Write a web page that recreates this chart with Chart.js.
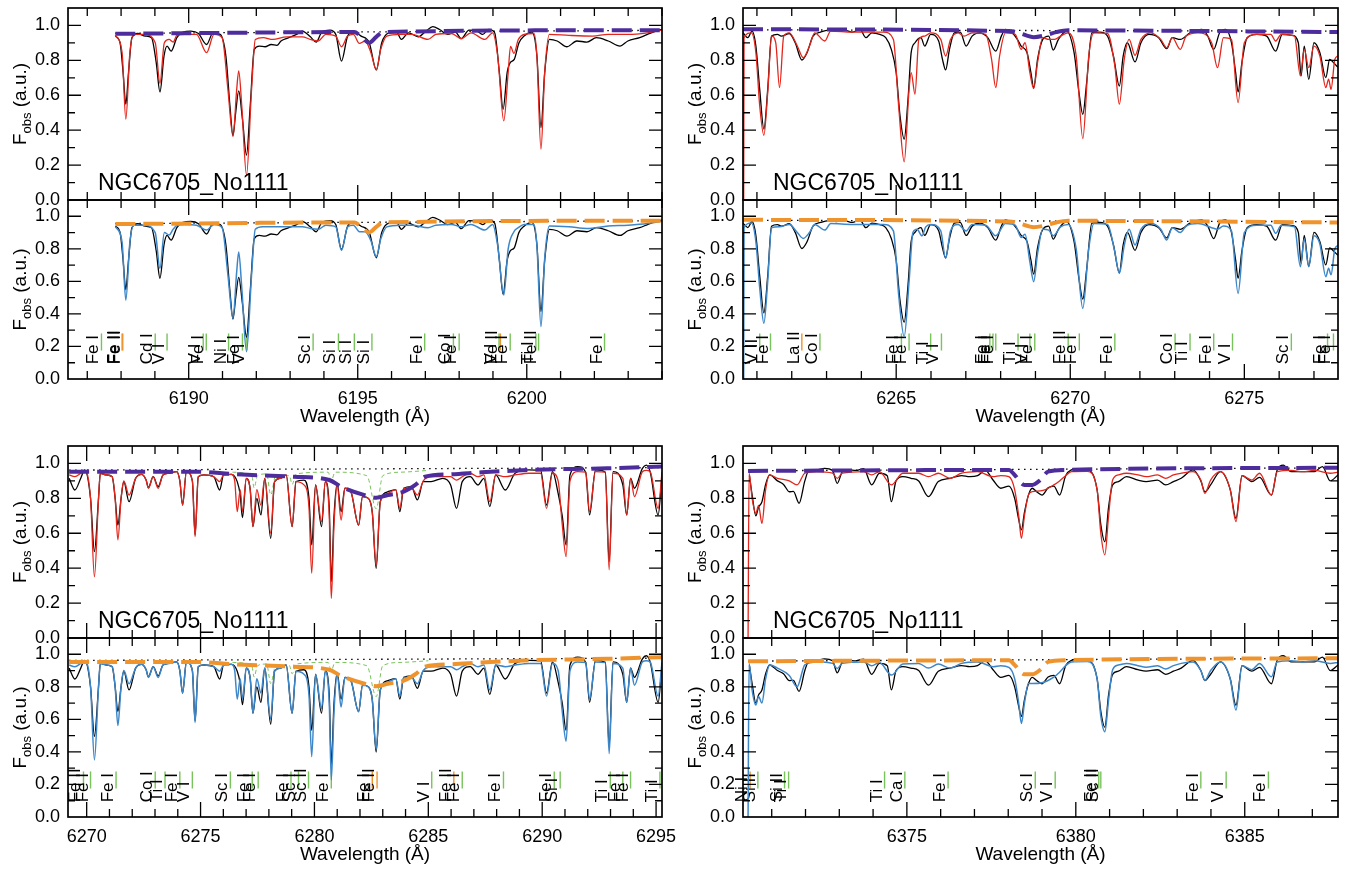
<!DOCTYPE html>
<html>
<head>
<meta charset="utf-8">
<script src="https://cdn.jsdelivr.net/npm/chart.js@4.4.0/dist/chart.umd.min.js"></script>
<style>
  html, body { margin: 0; padding: 0; background: #fff; }
  body { width: 1352px; height: 869px; position: relative; overflow: hidden; }
  canvas { position: absolute; }
</style>
</head>
<body>
<script>
// spectra: [wavelength (A), flux]
const tlObs = [[6187.83,0.939],[6187.97,0.901],[6188.06,0.730],[6188.14,0.549],[6188.22,0.730],[6188.32,0.930],[6188.49,0.954],[6188.72,0.939],[6188.90,0.930],[6189.04,0.787],[6189.15,0.619],[6189.27,0.825],[6189.36,0.882],[6189.48,0.853],[6189.65,0.930],[6189.83,0.962],[6190.06,0.968],[6190.29,0.954],[6190.53,0.891],[6190.72,0.958],[6190.93,0.949],[6191.10,0.825],[6191.22,0.539],[6191.31,0.368],[6191.39,0.501],[6191.48,0.625],[6191.59,0.463],[6191.71,0.257],[6191.82,0.539],[6191.94,0.863],[6192.09,0.882],[6192.26,0.878],[6192.44,0.891],[6192.61,0.886],[6192.73,0.911],[6192.96,0.930],[6193.19,0.949],[6193.36,0.968],[6193.60,0.935],[6193.77,0.905],[6193.94,0.962],[6194.18,0.973],[6194.35,0.949],[6194.52,0.796],[6194.70,0.939],[6194.87,0.962],[6195.10,0.939],[6195.34,0.901],[6195.55,0.745],[6195.71,0.901],[6195.92,0.958],[6196.15,0.962],[6196.29,0.920],[6196.50,0.958],[6196.79,0.935],[6197.02,0.968],[6197.22,0.993],[6197.42,0.977],[6197.66,0.949],[6197.89,0.962],[6198.06,0.924],[6198.29,0.973],[6198.53,0.968],[6198.70,0.949],[6198.87,0.977],[6199.05,0.958],[6199.19,0.730],[6199.30,0.520],[6199.42,0.730],[6199.51,0.787],[6199.63,0.806],[6199.77,0.901],[6199.92,0.939],[6200.15,0.962],[6200.30,0.825],[6200.42,0.415],[6200.53,0.730],[6200.67,0.920],[6200.90,0.911],[6201.19,0.878],[6201.48,0.911],[6201.78,0.905],[6202.06,0.930],[6202.41,0.911],[6202.76,0.882],[6202.99,0.911],[6203.34,0.930],[6203.57,0.949],[6203.81,0.968],[6204.0,0.977]];
const tlRed = [[6187.83,0.943],[6188.03,0.844],[6188.14,0.463],[6188.26,0.844],[6188.38,0.949],[6188.67,0.949],[6189.01,0.901],[6189.15,0.669],[6189.28,0.901],[6189.42,0.920],[6189.54,0.905],[6189.65,0.943],[6189.88,0.949],[6190.23,0.949],[6190.53,0.844],[6190.75,0.949],[6190.99,0.930],[6191.16,0.634],[6191.31,0.364],[6191.42,0.634],[6191.48,0.739],[6191.57,0.539],[6191.71,0.143],[6191.86,0.634],[6191.97,0.920],[6192.20,0.930],[6192.49,0.920],[6192.90,0.935],[6193.36,0.935],[6193.60,0.920],[6193.83,0.911],[6194.06,0.949],[6194.35,0.939],[6194.52,0.878],[6194.70,0.939],[6194.87,0.949],[6195.05,0.897],[6195.22,0.911],[6195.39,0.844],[6195.55,0.745],[6195.68,0.863],[6195.86,0.939],[6196.26,0.949],[6196.61,0.949],[6197.08,0.920],[6197.31,0.949],[6197.77,0.954],[6198.06,0.924],[6198.35,0.958],[6198.76,0.920],[6198.99,0.958],[6199.14,0.825],[6199.32,0.453],[6199.45,0.730],[6199.52,0.880],[6199.62,0.840],[6199.75,0.920],[6199.92,0.949],[6200.21,0.954],[6200.30,0.825],[6200.42,0.291],[6200.53,0.730],[6200.67,0.949],[6201.25,0.943],[6201.95,0.939],[6202.41,0.949],[6202.99,0.949],[6203.57,0.958],[6204.0,0.973]];
const tlBlue = [[6187.83,0.936],[6188.03,0.840],[6188.14,0.485],[6188.26,0.840],[6188.38,0.945],[6188.67,0.945],[6189.01,0.900],[6189.15,0.680],[6189.28,0.900],[6189.42,0.885],[6189.54,0.920],[6189.65,0.943],[6189.88,0.949],[6190.23,0.945],[6190.53,0.915],[6190.75,0.949],[6190.99,0.930],[6191.16,0.640],[6191.31,0.373],[6191.42,0.660],[6191.48,0.780],[6191.57,0.560],[6191.71,0.168],[6191.86,0.640],[6191.97,0.920],[6192.20,0.935],[6192.90,0.936],[6193.36,0.936],[6193.60,0.925],[6193.83,0.920],[6194.06,0.945],[6194.35,0.935],[6194.52,0.790],[6194.70,0.935],[6194.87,0.945],[6195.05,0.905],[6195.22,0.905],[6195.39,0.850],[6195.55,0.752],[6195.68,0.860],[6195.86,0.935],[6196.26,0.945],[6196.61,0.945],[6197.08,0.930],[6197.31,0.945],[6197.77,0.950],[6198.06,0.935],[6198.35,0.950],[6198.76,0.915],[6198.99,0.950],[6199.14,0.820],[6199.32,0.516],[6199.45,0.800],[6199.62,0.905],[6199.75,0.930],[6199.92,0.950],[6200.21,0.950],[6200.30,0.820],[6200.42,0.322],[6200.53,0.740],[6200.67,0.940],[6201.25,0.935],[6201.78,0.925],[6202.41,0.940],[6202.99,0.945],[6203.57,0.955],[6204.0,0.970]];
const tlCont = [[6187.83,0.952],[6194.90,0.962],[6195.05,0.945],[6195.34,0.901],[6195.55,0.935],[6195.75,0.962],[6204.0,0.973]];
const tlDot = [[6187.83,0.955],[6204.0,0.972]];

const trObs = [[6260.60,0.958],[6260.74,0.930],[6260.86,0.968],[6260.97,0.882],[6261.08,0.634],[6261.20,0.406],[6261.31,0.634],[6261.42,0.939],[6261.59,0.949],[6261.70,0.939],[6261.93,0.954],[6262.10,0.901],[6262.29,0.802],[6262.44,0.844],[6262.61,0.939],[6262.83,0.962],[6263.06,0.973],[6263.28,0.968],[6263.51,0.973],[6263.74,0.962],[6263.96,0.977],[6264.13,0.930],[6264.30,0.958],[6264.53,0.949],[6264.70,0.930],[6264.86,0.863],[6265.00,0.730],[6265.11,0.482],[6265.23,0.349],[6265.34,0.577],[6265.43,0.844],[6265.54,0.901],[6265.71,0.930],[6265.82,0.882],[6265.99,0.949],[6266.22,0.911],[6266.33,0.806],[6266.42,0.745],[6266.53,0.863],[6266.67,0.958],[6266.84,0.962],[6267.01,0.882],[6267.18,0.939],[6267.40,0.958],[6267.63,0.930],[6267.86,0.853],[6268.02,0.939],[6268.14,0.977],[6268.31,0.962],[6268.48,0.920],[6268.59,0.882],[6268.76,0.844],[6268.87,0.730],[6268.95,0.644],[6269.06,0.806],[6269.21,0.920],[6269.38,0.939],[6269.51,0.859],[6269.66,0.920],[6269.89,0.968],[6270.11,0.844],[6270.25,0.615],[6270.36,0.491],[6270.47,0.672],[6270.62,0.958],[6270.85,0.962],[6271.07,0.939],[6271.24,0.825],[6271.41,0.653],[6271.52,0.825],[6271.64,0.901],[6271.86,0.791],[6272.03,0.901],[6272.26,0.949],[6272.54,0.930],[6272.77,0.867],[6272.93,0.930],[6273.16,0.920],[6273.44,0.958],[6273.78,0.977],[6273.95,0.939],[6274.12,0.863],[6274.29,0.958],[6274.46,0.977],[6274.63,0.901],[6274.75,0.730],[6274.82,0.619],[6274.93,0.787],[6275.08,0.930],[6275.36,0.949],[6275.64,0.939],[6275.90,0.853],[6276.09,0.949],[6276.38,0.943],[6276.55,0.901],[6276.63,0.711],[6276.72,0.882],[6276.85,0.692],[6277.00,0.901],[6277.17,0.844],[6277.34,0.701],[6277.45,0.806],[6277.56,0.787],[6277.69,0.760]];
const trRed = [[6260.62,0.0],[6260.63,0.930],[6260.84,0.958],[6260.97,0.844],[6261.08,0.539],[6261.20,0.371],[6261.31,0.615],[6261.42,0.939],[6261.54,0.901],[6261.65,0.644],[6261.77,0.939],[6261.93,0.958],[6262.16,0.882],[6262.33,0.815],[6262.51,0.882],[6262.66,0.958],[6262.95,0.911],[6263.12,0.968],[6263.74,0.962],[6264.64,0.962],[6264.92,0.920],[6265.07,0.539],[6265.23,0.219],[6265.37,0.634],[6265.43,0.730],[6265.54,0.606],[6265.65,0.920],[6265.82,0.939],[6265.99,0.958],[6266.28,0.920],[6266.42,0.825],[6266.56,0.920],[6266.78,0.958],[6266.95,0.939],[6267.18,0.958],[6267.57,0.949],[6267.74,0.806],[6267.86,0.644],[6267.97,0.825],[6268.14,0.958],[6268.42,0.949],[6268.59,0.863],[6268.70,0.901],[6268.84,0.730],[6268.95,0.638],[6269.06,0.787],[6269.21,0.930],[6269.38,0.920],[6269.55,0.920],[6269.72,0.939],[6269.94,0.958],[6270.17,0.825],[6270.36,0.352],[6270.53,0.825],[6270.68,0.958],[6271.07,0.954],[6271.28,0.768],[6271.41,0.549],[6271.55,0.806],[6271.69,0.920],[6271.86,0.829],[6272.03,0.920],[6272.31,0.958],[6272.60,0.920],[6272.77,0.872],[6272.93,0.930],[6273.16,0.863],[6273.33,0.939],[6273.67,0.958],[6274.06,0.901],[6274.23,0.758],[6274.40,0.930],[6274.63,0.920],[6274.82,0.558],[6275.00,0.901],[6275.36,0.949],[6275.76,0.949],[6275.90,0.911],[6276.06,0.949],[6276.44,0.939],[6276.61,0.711],[6276.72,0.863],[6276.85,0.758],[6277.00,0.882],[6277.17,0.825],[6277.34,0.644],[6277.42,0.692],[6277.49,0.634],[6277.60,0.806],[6277.69,0.825]];
const trBlue = [[6260.62,0.0],[6260.63,0.930],[6260.84,0.958],[6260.97,0.844],[6261.08,0.560],[6261.20,0.342],[6261.31,0.600],[6261.42,0.930],[6261.65,0.935],[6261.93,0.950],[6262.16,0.900],[6262.33,0.864],[6262.51,0.900],[6262.66,0.950],[6262.95,0.915],[6263.12,0.955],[6263.74,0.950],[6264.64,0.950],[6264.92,0.910],[6265.07,0.520],[6265.23,0.260],[6265.37,0.600],[6265.48,0.900],[6265.60,0.920],[6265.74,0.880],[6265.85,0.935],[6265.99,0.950],[6266.28,0.910],[6266.42,0.741],[6266.56,0.910],[6266.78,0.950],[6267.01,0.910],[6267.18,0.950],[6267.57,0.945],[6267.86,0.880],[6268.14,0.955],[6268.42,0.945],[6268.59,0.870],[6268.70,0.890],[6268.84,0.720],[6268.95,0.598],[6269.06,0.770],[6269.21,0.920],[6269.38,0.915],[6269.51,0.880],[6269.72,0.935],[6269.94,0.950],[6270.17,0.800],[6270.36,0.434],[6270.53,0.800],[6270.68,0.955],[6271.07,0.950],[6271.28,0.780],[6271.41,0.649],[6271.55,0.820],[6271.69,0.920],[6271.86,0.823],[6272.03,0.920],[6272.31,0.955],[6272.60,0.920],[6272.77,0.854],[6272.93,0.930],[6273.16,0.900],[6273.33,0.940],[6273.67,0.955],[6274.06,0.930],[6274.23,0.920],[6274.40,0.940],[6274.63,0.910],[6274.82,0.526],[6275.00,0.900],[6275.36,0.945],[6275.76,0.945],[6275.90,0.895],[6276.06,0.945],[6276.44,0.935],[6276.61,0.690],[6276.72,0.860],[6276.85,0.690],[6277.00,0.880],[6277.17,0.830],[6277.34,0.629],[6277.42,0.680],[6277.49,0.640],[6277.60,0.800],[6277.69,0.820]];
const trCont = [[6260.60,0.978],[6268.25,0.968],[6268.55,0.955],[6268.95,0.933],[6269.27,0.943],[6269.60,0.962],[6269.94,0.972],[6277.69,0.962]];
const trDot = [[6260.60,0.975],[6277.69,0.967]];

const blObs = [[6269.23,0.915],[6269.48,0.848],[6269.74,0.915],[6269.91,0.963],[6270.17,0.800],[6270.34,0.495],[6270.52,0.800],[6270.60,0.944],[6270.86,0.934],[6271.12,0.924],[6271.25,0.800],[6271.37,0.647],[6271.51,0.800],[6271.63,0.896],[6271.86,0.781],[6272.15,0.915],[6272.41,0.938],[6272.61,0.905],[6272.71,0.861],[6272.92,0.924],[6273.14,0.867],[6273.35,0.934],[6273.61,0.944],[6273.95,0.953],[6274.09,0.900],[6274.21,0.762],[6274.38,0.953],[6274.64,0.900],[6274.76,0.590],[6274.90,0.924],[6275.15,0.934],[6275.58,0.924],[6275.84,0.848],[6276.01,0.934],[6276.36,0.938],[6276.61,0.896],[6276.74,0.820],[6276.84,0.690],[6277.01,0.915],[6277.18,0.850],[6277.30,0.638],[6277.47,0.800],[6277.65,0.705],[6277.82,0.915],[6278.08,0.571],[6278.25,0.896],[6278.51,0.915],[6278.76,0.934],[6279.02,0.638],[6279.19,0.896],[6279.54,0.905],[6279.76,0.800],[6279.88,0.533],[6280.05,0.877],[6280.31,0.638],[6280.48,0.896],[6280.65,0.750],[6280.74,0.323],[6280.86,0.700],[6281.00,0.886],[6281.17,0.724],[6281.34,0.858],[6281.60,0.838],[6281.94,0.647],[6282.11,0.810],[6282.37,0.800],[6282.54,0.720],[6282.71,0.399],[6282.89,0.780],[6283.23,0.838],[6283.57,0.850],[6283.75,0.724],[6283.92,0.858],[6284.26,0.867],[6284.52,0.791],[6284.78,0.896],[6285.12,0.896],[6285.64,0.915],[6285.98,0.877],[6286.24,0.743],[6286.49,0.896],[6286.84,0.924],[6287.18,0.877],[6287.44,0.915],[6287.70,0.753],[6287.96,0.934],[6288.38,0.848],[6288.81,0.944],[6289.42,0.963],[6289.93,0.960],[6290.19,0.762],[6290.45,0.953],[6290.70,0.829],[6290.88,0.700],[6291.05,0.533],[6291.22,0.934],[6291.56,0.982],[6291.91,0.950],[6292.08,0.705],[6292.34,0.963],[6292.77,0.950],[6292.94,0.437],[6293.11,0.953],[6293.54,0.877],[6293.71,0.705],[6293.88,0.915],[6294.05,0.858],[6294.40,0.972],[6294.57,0.991],[6294.74,0.953],[6295.09,0.705],[6295.26,0.930]];
const blMod = [[6269.23,0.934],[6269.48,0.924],[6269.74,0.944],[6269.91,0.960],[6270.17,0.800],[6270.34,0.351],[6270.52,0.800],[6270.60,0.944],[6270.86,0.934],[6271.12,0.924],[6271.25,0.800],[6271.37,0.562],[6271.51,0.800],[6271.63,0.900],[6271.86,0.819],[6272.15,0.915],[6272.41,0.938],[6272.61,0.905],[6272.71,0.858],[6272.92,0.924],[6273.14,0.858],[6273.35,0.934],[6273.61,0.944],[6273.95,0.953],[6274.09,0.900],[6274.21,0.762],[6274.38,0.953],[6274.64,0.900],[6274.76,0.581],[6274.90,0.924],[6275.15,0.934],[6275.58,0.924],[6275.84,0.896],[6276.01,0.934],[6276.36,0.938],[6276.50,0.900],[6276.61,0.724],[6276.74,0.850],[6276.84,0.724],[6277.01,0.915],[6277.18,0.850],[6277.30,0.638],[6277.47,0.850],[6277.65,0.762],[6277.82,0.915],[6278.08,0.600],[6278.25,0.896],[6278.51,0.915],[6278.76,0.934],[6279.02,0.638],[6279.19,0.896],[6279.54,0.877],[6279.76,0.750],[6279.88,0.371],[6280.05,0.877],[6280.31,0.667],[6280.48,0.896],[6280.65,0.700],[6280.74,0.227],[6280.86,0.650],[6281.00,0.877],[6281.17,0.676],[6281.34,0.858],[6281.60,0.838],[6281.94,0.647],[6282.11,0.810],[6282.37,0.800],[6282.54,0.720],[6282.71,0.418],[6282.89,0.780],[6283.23,0.829],[6283.57,0.850],[6283.75,0.743],[6283.92,0.858],[6284.26,0.858],[6284.52,0.819],[6284.78,0.900],[6285.12,0.924],[6285.64,0.924],[6285.98,0.924],[6286.24,0.905],[6286.49,0.924],[6286.84,0.944],[6287.18,0.924],[6287.44,0.934],[6287.70,0.781],[6287.96,0.934],[6288.38,0.924],[6288.81,0.934],[6289.42,0.944],[6289.93,0.944],[6290.19,0.743],[6290.45,0.944],[6290.70,0.900],[6290.88,0.650],[6291.05,0.466],[6291.22,0.900],[6291.56,0.953],[6291.91,0.950],[6292.08,0.724],[6292.34,0.953],[6292.77,0.950],[6292.94,0.390],[6293.11,0.944],[6293.54,0.915],[6293.71,0.705],[6293.88,0.915],[6294.05,0.810],[6294.40,0.953],[6294.57,0.960],[6294.74,0.953],[6295.09,0.743],[6295.26,0.950]];
const blCont = [[6269.23,0.953],[6274.73,0.953],[6276.53,0.938],[6279.11,0.924],[6280.65,0.905],[6281.17,0.867],[6282.20,0.819],[6282.71,0.804],[6283.23,0.819],[6283.92,0.838],[6284.43,0.877],[6284.86,0.924],[6285.98,0.938],[6287.35,0.949],[6289.42,0.963],[6292.85,0.972],[6295.26,0.982]];
const blDot = [[6269.23,0.962],[6295.26,0.976]];
const blGreen = [[6276.40,0.950],[6277.25,0.930],[6277.35,0.860],[6277.50,0.930],[6277.90,0.940],[6278.08,0.820],[6278.30,0.930],[6278.90,0.930],[6279.02,0.880],[6279.20,0.940],[6280.60,0.950],[6280.74,0.900],[6280.90,0.950],[6282.30,0.930],[6282.71,0.740],[6283.00,0.930],[6283.80,0.950],[6285.00,0.960]];

const brObs = [[6370.34,0.930],[6370.42,0.820],[6370.53,0.700],[6370.61,0.750],[6370.71,0.780],[6370.82,0.880],[6370.94,0.934],[6371.17,0.900],[6371.35,0.880],[6371.52,0.838],[6371.64,0.840],[6371.81,0.772],[6371.98,0.900],[6372.10,0.960],[6372.33,0.963],[6372.56,0.972],[6372.80,0.960],[6372.94,0.886],[6373.09,0.953],[6373.26,0.963],[6373.49,0.960],[6373.72,0.970],[6373.96,0.877],[6374.19,0.944],[6374.42,0.930],[6374.54,0.781],[6374.68,0.900],[6374.88,0.924],[6375.12,0.915],[6375.35,0.900],[6375.64,0.810],[6375.93,0.896],[6376.28,0.915],[6376.62,0.930],[6376.86,0.924],[6377.09,0.930],[6377.32,0.960],[6377.55,0.905],[6377.78,0.858],[6378.02,0.870],[6378.19,0.800],[6378.31,0.680],[6378.39,0.619],[6378.48,0.720],[6378.60,0.820],[6378.71,0.858],[6378.83,0.840],[6379.00,0.819],[6379.18,0.860],[6379.35,0.870],[6379.52,0.819],[6379.70,0.930],[6379.87,0.963],[6380.10,0.970],[6380.34,0.965],[6380.63,0.850],[6380.74,0.650],[6380.86,0.552],[6380.97,0.750],[6381.09,0.877],[6381.26,0.896],[6381.50,0.924],[6381.84,0.905],[6382.08,0.896],[6382.42,0.905],[6382.66,0.877],[6382.89,0.896],[6383.12,0.915],[6383.47,0.963],[6383.70,0.900],[6383.82,0.838],[6383.99,0.877],[6384.28,0.953],[6384.57,0.850],[6384.74,0.686],[6384.92,0.930],[6385.21,0.896],[6385.44,0.920],[6385.79,0.819],[6385.96,0.963],[6386.14,0.991],[6386.37,0.953],[6386.72,0.953],[6387.06,0.953],[6387.30,0.982],[6387.53,0.900],[6387.76,0.934]];
const brRed = [[6370.30,0.0],[6370.33,0.944],[6370.42,0.800],[6370.53,0.714],[6370.61,0.760],[6370.71,0.657],[6370.82,0.850],[6370.94,0.934],[6371.17,0.915],[6371.52,0.900],[6371.75,0.877],[6371.98,0.944],[6372.33,0.953],[6372.80,0.944],[6372.94,0.915],[6373.09,0.944],[6373.72,0.953],[6373.96,0.934],[6374.19,0.953],[6374.54,0.877],[6374.88,0.944],[6375.35,0.944],[6375.64,0.924],[6375.93,0.944],[6376.28,0.915],[6376.62,0.944],[6377.09,0.953],[6377.55,0.924],[6377.78,0.930],[6378.02,0.924],[6378.19,0.850],[6378.31,0.700],[6378.39,0.571],[6378.48,0.700],[6378.60,0.820],[6378.71,0.838],[6379.00,0.844],[6379.35,0.877],[6379.52,0.900],[6379.70,0.930],[6379.87,0.953],[6380.34,0.955],[6380.63,0.850],[6380.74,0.600],[6380.86,0.476],[6380.97,0.700],[6381.09,0.905],[6381.26,0.934],[6381.50,0.944],[6381.84,0.934],[6382.08,0.924],[6382.42,0.934],[6382.66,0.915],[6382.89,0.934],[6383.12,0.944],[6383.47,0.953],[6383.70,0.905],[6383.82,0.829],[6383.99,0.905],[6384.28,0.953],[6384.57,0.850],[6384.74,0.667],[6384.92,0.930],[6385.21,0.905],[6385.44,0.944],[6385.79,0.819],[6385.96,0.953],[6386.37,0.960],[6386.72,0.953],[6387.06,0.960],[6387.53,0.944],[6387.76,0.950]];
const brBlue = [[6370.30,0.0],[6370.33,0.944],[6370.42,0.780],[6370.53,0.688],[6370.61,0.740],[6370.71,0.700],[6370.82,0.850],[6370.94,0.934],[6371.17,0.915],[6371.52,0.870],[6371.75,0.800],[6371.98,0.935],[6372.33,0.953],[6372.80,0.944],[6372.94,0.913],[6373.09,0.944],[6373.72,0.953],[6373.96,0.930],[6374.19,0.950],[6374.54,0.872],[6374.88,0.940],[6375.35,0.944],[6375.64,0.915],[6375.93,0.940],[6376.28,0.915],[6376.62,0.944],[6377.09,0.953],[6377.55,0.924],[6377.78,0.930],[6378.02,0.920],[6378.19,0.850],[6378.31,0.700],[6378.39,0.575],[6378.48,0.700],[6378.60,0.820],[6378.71,0.820],[6379.00,0.825],[6379.35,0.860],[6379.52,0.890],[6379.70,0.930],[6379.87,0.953],[6380.34,0.955],[6380.63,0.850],[6380.74,0.620],[6380.86,0.524],[6380.97,0.720],[6381.09,0.905],[6381.26,0.934],[6381.50,0.944],[6381.84,0.930],[6382.08,0.920],[6382.42,0.930],[6382.66,0.910],[6382.89,0.930],[6383.12,0.944],[6383.47,0.953],[6383.70,0.900],[6383.82,0.840],[6383.99,0.900],[6384.28,0.953],[6384.57,0.850],[6384.74,0.657],[6384.92,0.930],[6385.21,0.905],[6385.44,0.944],[6385.79,0.862],[6385.96,0.953],[6386.37,0.960],[6386.72,0.953],[6387.06,0.960],[6387.53,0.944],[6387.76,0.950]];
const brCont = [[6370.30,0.957],[6378.02,0.963],[6378.19,0.934],[6378.48,0.877],[6378.71,0.877],[6378.95,0.905],[6379.18,0.953],[6379.70,0.963],[6387.76,0.976]];
const brDot = [[6370.30,0.958],[6387.76,0.975]];

// line identifications: [label, wavelength, tick colour]
const tlIds = [['Fe I',6187.42,'g'],['Fe II',6188.03,'o'],['Fe II',6188.05,'o'],['Cd I',6189.01,'g'],['V I',6189.36,'g'],['V I',6190.43,'g'],['Fe I',6190.52,'g'],['Ni I',6191.18,'g'],['Fe I',6191.59,'g'],['V I',6191.72,'g'],['Sc I',6193.68,'g'],['Si I',6194.43,'g'],['Si I',6194.90,'g'],['Si I',6195.42,'g'],['Fe I',6196.98,'g'],['Co I',6197.83,'g'],['Fe I',6198.00,'g'],['V I',6199.18,'g'],['Fe II',6199.22,'o'],['Fe I',6199.51,'g'],['Ti I',6200.27,'g'],['Fe II',6200.35,'g'],['Fe I',6202.30,'g']];
const trIds = [['V II',6261.08,'g'],['Fe I',6261.39,'g'],['La II',6262.29,'o'],['Co I',6262.81,'g'],['Fe I',6265.15,'g'],['Fe I',6265.37,'g'],['Ti I',6265.99,'g'],['V I',6266.30,'g'],['Fe I',6267.69,'g'],['Fe I',6267.78,'g'],['Fe I',6267.86,'g'],['Ti I',6268.50,'g'],['V I',6268.84,'g'],['Fe I',6268.98,'g'],['Fe II',6269.94,'g'],['Fe I',6270.26,'g'],['Fe I',6271.28,'g'],['Co I',6273.01,'g'],['Ti I',6273.44,'g'],['Fe I',6274.12,'g'],['V I',6274.66,'g'],['Sc I',6276.35,'g'],['Fe I',6277.39,'g'],['Fe I',6277.56,'g']];
const blIds = [['Fe II',6269.86,'g'],['Fe I',6270.17,'g'],['Fe I',6271.29,'g'],['Co I',6273.01,'g'],['Ti I',6273.44,'g'],['Fe I',6274.09,'g'],['V I',6274.64,'g'],['Sc I',6276.31,'g'],['Fe I',6277.27,'g'],['Fe I',6277.53,'g'],['Fe I',6278.97,'g'],['Sc I',6279.30,'g'],['Sc II',6279.74,'g'],['Fe I',6280.74,'g'],['Fe I',6282.54,'o'],['Fe II',6282.75,'o'],['V I',6285.15,'g'],['Fe II',6286.12,'o'],['Fe I',6286.49,'g'],['Fe I',6288.30,'g'],['Fe I',6290.53,'g'],['Si I',6290.79,'g'],['Ti I',6292.99,'g'],['Fe I',6293.54,'g'],['Fe I',6293.88,'g'],['Ti I',6295.17,'g']];
const brIds = [['Ni I',6370.36,'o'],['Si II',6370.59,'g'],['Si II',6371.38,'g'],['Ti I',6371.50,'g'],['Ti I',6374.34,'g'],['Ca I',6374.94,'g'],['Fe I',6376.22,'g'],['Sc I',6378.80,'g'],['V I',6379.39,'g'],['Fe II',6380.68,'g'],['Sc II',6380.74,'g'],['Fe I',6383.70,'g'],['V I',6384.45,'g'],['Fe I',6385.70,'g']];

const starName = 'NGC6705_No1111';
const xRanges = [[6186.43, 6204.0], [6260.60, 6277.69], [6269.18, 6295.26], [6370.15, 6387.76]];

const FONT = '"Liberation Sans", Arial, Helvetica, sans-serif';
const C = { red: '#e3261c', blue: '#3d87c9', purple: '#4d2c9c', orange: '#ef932c', green: '#79c35d', g: '#79c35d', o: '#ef932c', k: '#000000' };

// pixel frame of the plot boxes
const COLS = [[68, 662], [743, 1338]];
const ROWS = [[8, 200, 379], [446, 638, 817]];
const PADL = 68, PADR = 26, PADT = 6;

const idl = {
  id: 'idl',
  beforeDatasetsDraw(chart, args, o) {
    if (!o.ids) return;
    const ctx = chart.ctx, xs = chart.scales.x, ys = chart.scales.y;
    ctx.save();
    o.ids.forEach(([name, wl, c]) => {
      const px = xs.getPixelForValue(wl);
      ctx.strokeStyle = C[c];
      ctx.lineWidth = 1.4;
      ctx.beginPath();
      ctx.moveTo(px, ys.getPixelForValue(0.175));
      ctx.lineTo(px, ys.getPixelForValue(0.28));
      ctx.stroke();
      ctx.save();
      ctx.translate(px - 3, ys.getPixelForValue(0.09));
      ctx.rotate(-Math.PI / 2);
      ctx.fillStyle = '#000';
      ctx.font = '17px ' + FONT;
      ctx.textAlign = 'left';
      ctx.textBaseline = 'alphabetic';
      ctx.fillText(name, 0, 0);
      ctx.restore();
    });
    ctx.restore();
  },
  afterDatasetsDraw(chart, args, o) {
    const ctx = chart.ctx, xs = chart.scales.x, ys = chart.scales.y, a = chart.chartArea;
    ctx.save();
    ctx.strokeStyle = '#000';
    ctx.lineWidth = 1.7;
    ctx.strokeRect(a.left, a.top, a.right - a.left, a.bottom - a.top);
    ctx.lineWidth = 1.3;
    ctx.beginPath();
    for (let w = Math.ceil(xs.min); w <= xs.max; w++) {
      const px = xs.getPixelForValue(w), len = w % 5 === 0 ? 15 : 8;
      ctx.moveTo(px, a.bottom); ctx.lineTo(px, a.bottom - len);
      ctx.moveTo(px, a.top); ctx.lineTo(px, a.top + len);
    }
    for (let k = 1; k <= 10; k++) {
      const py = ys.getPixelForValue(k / 10), len = k % 2 === 0 ? 13 : 7;
      ctx.moveTo(a.left, py); ctx.lineTo(a.left + len, py);
      ctx.moveTo(a.right, py); ctx.lineTo(a.right - len, py);
    }
    ctx.stroke();
    ctx.fillStyle = '#000';
    if (o.star) {
      ctx.font = '23px ' + FONT;
      ctx.textAlign = 'left';
      ctx.textBaseline = 'alphabetic';
      ctx.fillText(o.star, a.left + 30, a.bottom - 10);
    }
    if (o.xtitle) {
      ctx.font = '19px ' + FONT;
      ctx.textAlign = 'center';
      ctx.textBaseline = 'middle';
      ctx.fillText(o.xtitle, (a.left + a.right) / 2, a.bottom + 38);
    }
    // y title: F_obs (a.u.)
    ctx.save();
    ctx.translate(a.left - 42, (a.top + a.bottom) / 2);
    ctx.rotate(-Math.PI / 2);
    ctx.textAlign = 'left';
    ctx.textBaseline = 'alphabetic';
    const big = '19px ' + FONT, small = '13px ' + FONT;
    ctx.font = big;
    const wF = ctx.measureText('F').width, wR = ctx.measureText(' (a.u.)').width;
    ctx.font = small;
    const wS = ctx.measureText('obs').width;
    const x0 = -(wF + wS + wR) / 2;
    ctx.font = big; ctx.fillText('F', x0, 0);
    ctx.font = small; ctx.fillText('obs', x0 + wF, 5);
    ctx.font = big; ctx.fillText(' (a.u.)', x0 + wF + wS, 0);
    ctx.restore();
    ctx.restore();
  }
};

function xy(list) { return list.map(p => ({ x: p[0], y: p[1] })); }
function series(list, color, width, dash) {
  return { data: xy(list), borderColor: color, borderWidth: width, borderDash: dash || [],
           pointRadius: 0, fill: false, cubicInterpolationMode: 'monotone' };
}
function noPad(s) { s.paddingLeft = 0; s.paddingRight = 0; s.paddingTop = 0; s.paddingBottom = 0; }

function panel(q, lower) {
  const [left, right] = COLS[q.col];
  const top = lower ? ROWS[q.row][1] : ROWS[q.row][0];
  const bottom = lower ? ROWS[q.row][2] : ROWS[q.row][1];
  const padB = lower ? 60 : 14;
  const W = right - left + PADL + PADR, H = bottom - top + PADT + padB;
  const cv = document.createElement('canvas');
  cv.width = W; cv.height = H;
  cv.style.left = (left - PADL) + 'px';
  cv.style.top = (top - PADT) + 'px';
  cv.style.width = W + 'px'; cv.style.height = H + 'px';
  document.body.appendChild(cv);

  const datasets = [
    series(q.cont, lower ? C.orange : C.purple, 4, [20, 8]),
    series(lower ? q.blue : q.red, lower ? C.blue : C.red, lower ? 1.5 : 1.3),
    series(q.obs, '#000', 1.3)
  ];
  if (q.green) datasets.push(series(q.green, C.green, 1, [4, 3]));
  datasets.push(series(q.dot, '#000', 1.3, [1.5, 4.5]));

  new Chart(cv, {
    type: 'line',
    data: { datasets },
    options: {
      responsive: false, animation: false, devicePixelRatio: 1,
      layout: { padding: { left: 0, right: PADR, top: PADT, bottom: 0 } },
      plugins: {
        legend: { display: false }, tooltip: { enabled: false },
        idl: { ids: lower ? q.ids : null, star: lower ? null : starName, xtitle: lower ? 'Wavelength (Å)' : null }
      },
      scales: {
        x: {
          type: 'linear', min: q.x[0], max: q.x[1],
          afterFit: s => { s.height = padB; noPad(s); },
          grid: { display: false, drawTicks: false }, border: { display: false },
          ticks: { display: lower, stepSize: 5, includeBounds: false, autoSkip: false, maxRotation: 0,
                   padding: 9, color: '#000', font: { family: FONT, size: 18 },
                   callback: v => Number(v).toFixed(0) }
        },
        y: {
          min: 0, max: 1.1,
          afterFit: s => { s.width = PADL; noPad(s); },
          grid: { display: false, drawTicks: false }, border: { display: false },
          ticks: { stepSize: 0.2, includeBounds: false, padding: 8, color: '#000',
                   font: { family: FONT, size: 18 }, callback: v => Number(v).toFixed(1) }
        }
      }
    },
    plugins: [idl]
  });
}

const quads = [
  { row: 0, col: 0, x: xRanges[0], obs: tlObs, red: tlRed, blue: tlBlue, cont: tlCont, dot: tlDot, ids: tlIds },
  { row: 0, col: 1, x: xRanges[1], obs: trObs, red: trRed, blue: trBlue, cont: trCont, dot: trDot, ids: trIds },
  { row: 1, col: 0, x: xRanges[2], obs: blObs, red: blMod, blue: blMod, cont: blCont, dot: blDot, ids: blIds, green: blGreen },
  { row: 1, col: 1, x: xRanges[3], obs: brObs, red: brRed, blue: brBlue, cont: brCont, dot: brDot, ids: brIds }
];
quads.forEach(q => { panel(q, false); panel(q, true); });
</script>
</body>
</html>
